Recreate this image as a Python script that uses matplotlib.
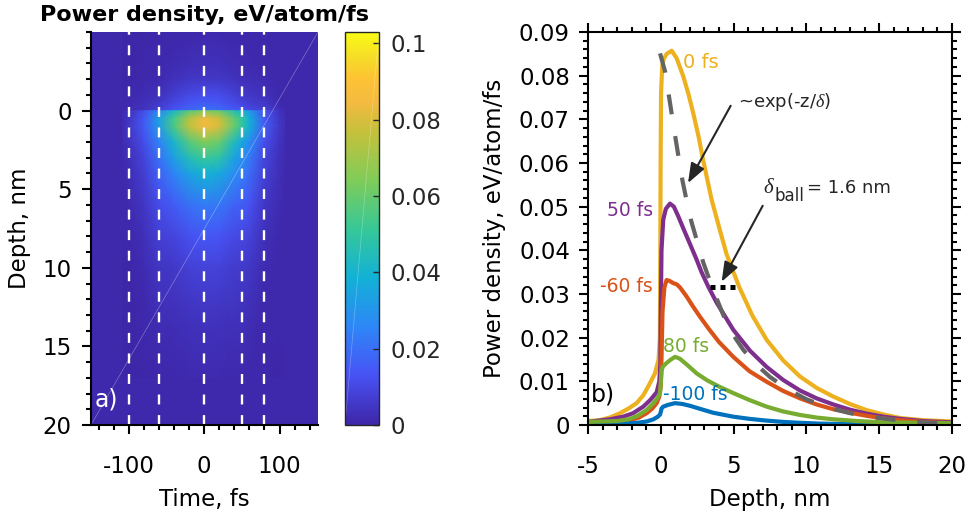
import numpy as np
import matplotlib
matplotlib.use("Agg")
import matplotlib.pyplot as plt
from matplotlib.colors import LinearSegmentedColormap
from matplotlib.ticker import MultipleLocator, FixedLocator

plt.rcParams["font.family"] = "DejaVu Sans"
plt.rcParams["axes.unicode_minus"] = False
plt.rcParams["mathtext.fontset"] = "custom"
plt.rcParams["mathtext.rm"] = "DejaVu Sans"
plt.rcParams["mathtext.it"] = "Liberation Serif:italic"

# ---- panel a) heatmap: power density vs time (fs) and depth (nm)
times = [-108, -100, -80, -60, -40, -20, 0, 20, 40, 50, 60, 80, 100, 107]
depths = [-5, -3, -2, -1, -0.5, -0.02, 0.02, 0.5, 1, 2, 3, 4, 6, 8, 10, 12, 14, 17]
power_map = [
    [0.0003, 0.0003, 0.0004, 0.0005, 0.0007, 0.0008, 0.0009, 0.0009, 0.0008, 0.0008, 0.0008, 0.0007, 0.0005, 0.0005],
    [0.0003, 0.0003, 0.0007, 0.0010, 0.0020, 0.0027, 0.0031, 0.0029, 0.0023, 0.0019, 0.0016, 0.0010, 0.0005, 0.0005],
    [0.0003, 0.0004, 0.0011, 0.0016, 0.0036, 0.0049, 0.0056, 0.0052, 0.0040, 0.0032, 0.0027, 0.0017, 0.0006, 0.0005],
    [0.0005, 0.0009, 0.0021, 0.0036, 0.0075, 0.0103, 0.0118, 0.0110, 0.0082, 0.0064, 0.0054, 0.0036, 0.0010, 0.0007],
    [0.0008, 0.0014, 0.0029, 0.0055, 0.0098, 0.0134, 0.0153, 0.0142, 0.0107, 0.0090, 0.0072, 0.0052, 0.0015, 0.0009],
    [0.0012, 0.0022, 0.0040, 0.0085, 0.0132, 0.0180, 0.0205, 0.0190, 0.0145, 0.0130, 0.0104, 0.0077, 0.0025, 0.0013],
    [0.0018, 0.0035, 0.0110, 0.0260, 0.0420, 0.0570, 0.0650, 0.0600, 0.0460, 0.0400, 0.0310, 0.0125, 0.0040, 0.0022],
    [0.0022, 0.0045, 0.0140, 0.0332, 0.0535, 0.0730, 0.0840, 0.0775, 0.0585, 0.0500, 0.0380, 0.0145, 0.0047, 0.0026],
    [0.0024, 0.0050, 0.0145, 0.0325, 0.0550, 0.0755, 0.0852, 0.0800, 0.0600, 0.0500, 0.0390, 0.0156, 0.0050, 0.0028],
    [0.0017, 0.0038, 0.0109, 0.0248, 0.0409, 0.0566, 0.0644, 0.0600, 0.0435, 0.0361, 0.0278, 0.0117, 0.0037, 0.0021],
    [0.0015, 0.0030, 0.0087, 0.0204, 0.0331, 0.0452, 0.0518, 0.0483, 0.0348, 0.0291, 0.0226, 0.0091, 0.0030, 0.0017],
    [0.0011, 0.0023, 0.0072, 0.0165, 0.0251, 0.0345, 0.0392, 0.0365, 0.0274, 0.0239, 0.0191, 0.0077, 0.0025, 0.0015],
    [0.0008, 0.0013, 0.0045, 0.0110, 0.0150, 0.0204, 0.0231, 0.0218, 0.0165, 0.0157, 0.0126, 0.0050, 0.0017, 0.0010],
    [0.0005, 0.0007, 0.0029, 0.0074, 0.0090, 0.0124, 0.0142, 0.0132, 0.0104, 0.0100, 0.0083, 0.0030, 0.0010, 0.0008],
    [0.0004, 0.0004, 0.0018, 0.0047, 0.0056, 0.0077, 0.0087, 0.0081, 0.0064, 0.0063, 0.0051, 0.0018, 0.0007, 0.0006],
    [0.0003, 0.0003, 0.0011, 0.0033, 0.0038, 0.0052, 0.0059, 0.0055, 0.0045, 0.0044, 0.0035, 0.0012, 0.0005, 0.0005],
    [0.0003, 0.0002, 0.0007, 0.0019, 0.0023, 0.0030, 0.0035, 0.0032, 0.0028, 0.0025, 0.0020, 0.0008, 0.0005, 0.0005],
    [0.0003, 0.0002, 0.0004, 0.0008, 0.0010, 0.0013, 0.0015, 0.0014, 0.0011, 0.0011, 0.0009, 0.0005, 0.0004, 0.0005],
]
background_value = 0.0005
slice_times = [-100, -60, 0, 50, 80]

# ---- panel b) depth profiles at selected times
x_0fs = [-5, -4.2, -3.5, -2.8, -2.2, -1.66, -1.2, -0.8, -0.4, -0.15, -0.06, -0.03, -0.01, 0.02, 0.1, 0.2,
         0.41, 0.75, 1.09, 1.55, 1.9, 2.23, 2.6, 2.92, 3.5, 4.07, 4.53, 5.4, 6.3, 7.27, 8.4, 9.56, 10.7,
         11.85, 13.0, 14.14, 15.3, 16.43, 18.0, 20.0]
y_0fs = [0.0009, 0.0011, 0.0017, 0.0027, 0.0038, 0.0050, 0.0068, 0.0092, 0.0118, 0.0150, 0.0200, 0.0400,
         0.0600, 0.0760, 0.0822, 0.0838, 0.0850, 0.0857, 0.0840, 0.0798, 0.0758, 0.0714, 0.0660, 0.0605,
         0.0515, 0.0445, 0.0390, 0.0315, 0.0250, 0.0195, 0.0148, 0.0111, 0.0085, 0.0065, 0.0048, 0.0034,
         0.0024, 0.0016, 0.0011, 0.0008]
x_50fs = [-5, -4.5, -3.5, -2.58, -1.9, -1.2, -0.7, -0.28, -0.1, -0.03, 0.0, 0.05, 0.17, 0.35, 0.63, 0.9,
          1.2, 1.55, 2.0, 2.47, 2.8, 3.26, 3.84, 4.98, 6.13, 7.27, 8.41, 9.56, 10.7, 11.85, 13.0, 14.14,
          15.3, 16.43, 18.0, 20.0]
y_50fs = [0.0007, 0.0009, 0.0013, 0.0019, 0.0027, 0.0042, 0.0058, 0.0075, 0.0100, 0.0140, 0.0250, 0.0400,
          0.0470, 0.0495, 0.0507, 0.0500, 0.0478, 0.0450, 0.0415, 0.0378, 0.0350, 0.0317, 0.0280, 0.0218,
          0.0170, 0.0133, 0.0103, 0.0079, 0.0061, 0.0047, 0.0035, 0.0026, 0.0019, 0.0014, 0.0009, 0.0006]
x_m60fs = [-5, -4, -3, -2.1, -1.5, -0.97, -0.6, -0.28, -0.1, 0.0, 0.05, 0.12, 0.25, 0.4, 0.6, 0.85, 1.1,
           1.32, 1.78, 2.2, 2.69, 3.3, 4.0, 4.98, 6.1, 7.27, 8.4, 9.56, 10.7, 11.85, 13.0, 14.14, 15.3,
           16.43, 18.0, 20.0]
y_m60fs = [0.0004, 0.0005, 0.0007, 0.0011, 0.0017, 0.0027, 0.0037, 0.0050, 0.0065, 0.0090, 0.0150, 0.0260,
           0.0315, 0.0332, 0.0330, 0.0325, 0.0322, 0.0315, 0.0294, 0.0272, 0.0248, 0.0220, 0.0190, 0.0156,
           0.0123, 0.0099, 0.0078, 0.0061, 0.0047, 0.0036, 0.0028, 0.0021, 0.0015, 0.0011, 0.0007, 0.0004]
x_80fs = [-5, -4, -3, -2.2, -1.6, -0.97, -0.5, -0.2, -0.05, 0.0, 0.06, 0.15, 0.4, 0.7, 0.98, 1.3, 1.8,
          2.47, 3.2, 4.0, 4.98, 6.1, 7.27, 8.4, 9.56, 10.7, 11.85, 13.5, 15.3, 17.5, 20.0]
y_80fs = [0.0007, 0.0008, 0.0009, 0.0013, 0.0021, 0.0034, 0.0050, 0.0063, 0.0073, 0.0095, 0.0125, 0.0134,
          0.0142, 0.0150, 0.0156, 0.0152, 0.0138, 0.0118, 0.0102, 0.0088, 0.0073, 0.0057, 0.0042, 0.0031,
          0.0023, 0.0017, 0.0013, 0.0009, 0.0006, 0.0005, 0.0004]
x_m100fs = [-5, -3.5, -2.5, -1.6, -0.97, -0.5, -0.2, -0.05, 0.0, 0.06, 0.17, 0.5, 0.98, 1.5, 2.0, 2.69,
            3.6, 4.98, 6.1, 7.27, 8.4, 9.56, 11.0, 13.0, 16.0, 20.0]
y_m100fs = [0.0003, 0.0003, 0.0003, 0.0005, 0.0008, 0.0013, 0.0019, 0.0024, 0.0030, 0.0038, 0.0042, 0.0046,
            0.0050, 0.0048, 0.0044, 0.0037, 0.0028, 0.0019, 0.0014, 0.0010, 0.0007, 0.0005, 0.0003, 0.0002,
            0.0002, 0.0002]
x_fit = [-0.05, 0.3, 0.6, 0.9, 1.2, 1.5, 1.8, 2.1, 2.5, 2.92, 3.5, 4.29, 5.0, 5.67, 6.5, 7.5, 8.7, 10.0,
         11.5, 13.0, 14.5, 16.0, 18.0, 20.0]
y_fit = [0.0851, 0.0809, 0.0745, 0.0680, 0.0618, 0.0558, 0.0510, 0.0466, 0.0420, 0.0372, 0.0318, 0.0252,
         0.0205, 0.0172, 0.0140, 0.0110, 0.0082, 0.0059, 0.0040, 0.0027, 0.0018, 0.0012, 0.0006, 0.0003]
x_ball = [3.4, 5.36]
y_ball = [0.0315, 0.0315]

# MATLAB parula-like colormap
parula = LinearSegmentedColormap.from_list("parula", [
    (0.000, (0.2422, 0.1504, 0.6603)),
    (0.125, (0.2810, 0.3228, 0.9579)),
    (0.250, (0.1786, 0.5289, 0.9682)),
    (0.375, (0.0689, 0.6948, 0.8394)),
    (0.500, (0.2161, 0.7843, 0.5923)),
    (0.625, (0.5044, 0.7993, 0.3480)),
    (0.750, (0.7800, 0.7550, 0.2300)),
    (0.820, (0.9500, 0.7300, 0.2500)),
    (0.880, (0.9950, 0.7600, 0.2100)),
    (0.940, (0.9650, 0.8700, 0.1500)),
    (1.000, (0.9769, 0.9839, 0.0805)),
])
vmax = 0.103

fig = plt.figure(figsize=(9.77, 5.21), dpi=100)
ax1 = fig.add_axes([0.0931, 0.1843, 0.2324, 0.7543])
cax = fig.add_axes([0.3531, 0.1843, 0.0348, 0.7543])
ax2 = fig.add_axes([0.6018, 0.1843, 0.3726, 0.7543])

# ---- a)
ax1.set_facecolor(parula(background_value / vmax))
T, Z = np.meshgrid(times, depths)
mesh = ax1.pcolormesh(T, Z, np.array(power_map), shading="gouraud", cmap=parula, vmin=0, vmax=vmax)
for t in slice_times:
    ax1.axvline(t, color="white", lw=1.7, dashes=(4.2, 4.5))
ax1.plot([0, 1], [0, 1], transform=ax1.transAxes, color="white", lw=0.5, alpha=0.35)
ax1.set_xlim(-150, 151)
ax1.set_ylim(20, -5)
ax1.xaxis.set_major_locator(MultipleLocator(100))
ax1.xaxis.set_minor_locator(MultipleLocator(20))
ax1.yaxis.set_major_locator(FixedLocator([0, 5, 10, 15, 20]))
ax1.yaxis.set_minor_locator(MultipleLocator(1))
for s in ["top", "right"]:
    ax1.spines[s].set_visible(False)
for s in ["left", "bottom"]:
    ax1.spines[s].set_linewidth(1.5)
ax1.tick_params(which="both", direction="out", width=1.5, labelsize=16.5, colors="black")
ax1.tick_params(which="major", length=6.5)
ax1.tick_params(which="minor", length=3.5)
ax1.tick_params(axis="x", which="major", pad=15)
ax1.tick_params(axis="y", which="major", pad=7.5)
ax1.set_xlabel("Time, fs", fontsize=16.5, labelpad=7)
ax1.set_ylabel("Depth, nm", fontsize=16.5, labelpad=8)
ax1.set_title("Power density, eV/atom/fs", fontsize=16, fontweight="bold", pad=8)
ax1.text(-145, 18.35, "a)", color="white", fontsize=17, va="center", ha="left")

cb = fig.colorbar(mesh, cax=cax)
cb.set_ticks([0, 0.02, 0.04, 0.06, 0.08, 0.1])
cb.set_ticklabels(["0", "0.02", "0.04", "0.06", "0.08", "0.1"])
cb.outline.set_linewidth(1.0)
cb.outline.set_edgecolor("#262626")
cax.tick_params(direction="in", length=4, width=1, labelsize=16.5, colors="#262626", pad=8)
cax.plot([0, 1], [0, 1], transform=cax.transAxes, color="white", lw=0.5, alpha=0.3)

# ---- b)
lw = 3.0
ax2.plot(x_0fs, y_0fs, color="#EDB120", lw=lw)
ax2.plot(x_50fs, y_50fs, color="#7E2F8E", lw=lw)
ax2.plot(x_m60fs, y_m60fs, color="#D95319", lw=lw)
ax2.plot(x_m100fs, y_m100fs, color="#0072BD", lw=lw)
ax2.plot(x_80fs, y_80fs, color="#77AC30", lw=lw)
ax2.plot(x_fit, y_fit, color="#646464", lw=3.0, dashes=(4.8, 5.3), dash_capstyle="butt")
ax2.plot(x_ball, y_ball, color="black", lw=3.6, dashes=(1, 1), dash_capstyle="butt")

ax2.set_xlim(-5, 20)
ax2.set_ylim(0, 0.09)
ax2.xaxis.set_major_locator(MultipleLocator(5))
ax2.xaxis.set_minor_locator(MultipleLocator(1))
ax2.yaxis.set_minor_locator(MultipleLocator(0.002))
ax2.set_yticks([0, 0.01, 0.02, 0.03, 0.04, 0.05, 0.06, 0.07, 0.08, 0.09])
ax2.set_yticklabels(["0", "0.01", "0.02", "0.03", "0.04", "0.05", "0.06", "0.07", "0.08", "0.09"])
for s in ax2.spines.values():
    s.set_linewidth(1.5)
ax2.tick_params(which="both", direction="out", width=1.5, labelsize=16.5, top=True, right=True)
ax2.tick_params(which="major", length=6.5)
ax2.tick_params(which="minor", length=3.5)
ax2.tick_params(axis="x", which="major", pad=15)
ax2.tick_params(axis="y", which="major", pad=6.5)
ax2.set_xlabel("Depth, nm", fontsize=16.5, labelpad=7)
ax2.set_ylabel("Power density, eV/atom/fs", fontsize=16.5, labelpad=9)

ax2.text(1.52, 0.0829, "0 fs", color="#EDB120", fontsize=14, va="center", ha="left")
ax2.text(-0.54, 0.0492, "50 fs", color="#7E2F8E", fontsize=13.5, va="center", ha="right")
ax2.text(-0.54, 0.0318, "-60 fs", color="#D95319", fontsize=13.5, va="center", ha="right")
ax2.text(0.15, 0.0179, "80 fs", color="#77AC30", fontsize=13.5, va="center", ha="left")
ax2.text(0.15, 0.0069, "-100 fs", color="#0072BD", fontsize=13.5, va="center", ha="left")
ax2.text(-4.78, 0.0069, "b)", color="black", fontsize=17, va="center", ha="left")

ax2.text(5.3, 0.074, r"~exp(-z/$\delta$)", color="#262626", fontsize=13, va="center", ha="left")
ax2.text(7.02, 0.0546, r"$\delta$", color="#262626", fontsize=15, va="center", ha="left")
ax2.text(7.84, 0.0524, "ball", color="#262626", fontsize=12, va="center", ha="left")
ax2.text(10.04, 0.0543, "= 1.6 nm", color="#262626", fontsize=13, va="center", ha="left")
arrow = dict(arrowstyle="-|>,head_length=0.8,head_width=0.3", color="#262626", lw=1.5,
             mutation_scale=15, shrinkA=0, shrinkB=0)
ax2.annotate("", xy=(1.87, 0.0554), xytext=(4.80, 0.0731), arrowprops=arrow)
ax2.annotate("", xy=(4.18, 0.0328), xytext=(7.0, 0.0502), arrowprops=arrow)

fig.savefig("out.png", dpi=100)
